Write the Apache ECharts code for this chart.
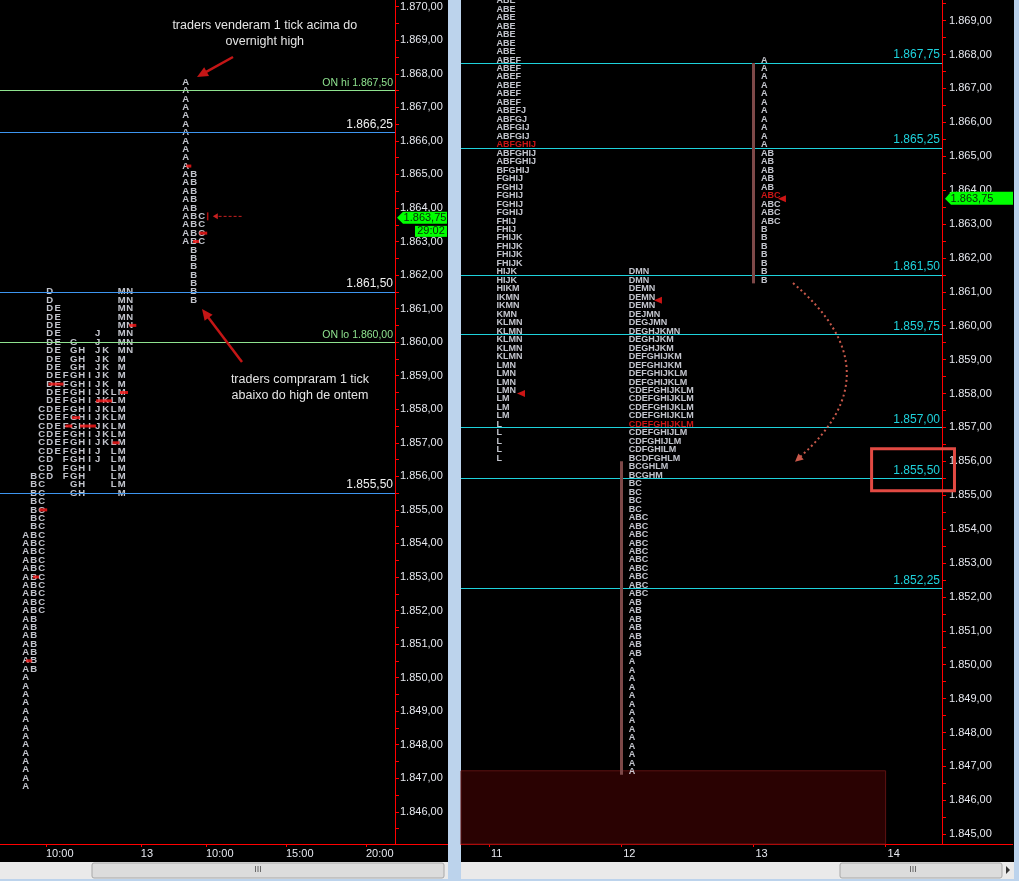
<!DOCTYPE html>
<html><head><meta charset="utf-8">
<script src="https://cdn.jsdelivr.net/npm/echarts@6/dist/echarts.min.js"></script>
<style>
html,body{margin:0;padding:0;background:#bcd3ec;width:1019px;height:881px;overflow:hidden}
#lp{position:absolute;left:0;top:0;width:448px;height:862px;background:#000}
#rp{position:absolute;left:461px;top:0;width:553px;height:862px;background:#000}
#c{position:absolute;left:0;top:0;width:1019px;height:881px}
</style></head><body>
<div id="lp"></div><div id="rp"></div><div id="c"></div>
<script>
// ---------------- DATA ----------------
const leftPriceTicks = [1846,1847,1848,1849,1850,1851,1852,1853,1854,1855,1856,1857,1858,1859,1860,1861,1862,1863,1864,1865,1866,1867,1868,1869,1870];
const rightPriceTicks = [1845,1846,1847,1848,1849,1850,1851,1852,1853,1854,1855,1856,1857,1858,1859,1860,1861,1862,1863,1864,1865,1866,1867,1868,1869];
const leftTimeTickPos = [5.75, 17.6, 25.75, 35.75, 45.75];
const leftTimeLabels = ['10:00','13','10:00','15:00','20:00'];
const rightDayTicks = [11,12,13,14];
const rightDayLabels = ['11','12','13','14'];

const day11 = [
 [1869.50,'ABE'],[1869.25,'ABE'],[1869.00,'ABE'],[1868.75,'ABE'],[1868.50,'ABE'],[1868.25,'ABE'],[1868.00,'ABE'],
 [1867.75,'ABEF'],[1867.50,'ABEF'],[1867.25,'ABEF'],[1867.00,'ABEF'],[1866.75,'ABEF'],[1866.50,'ABEF'],
 [1866.25,'ABEFJ'],[1866.00,'ABFGJ'],[1865.75,'ABFGIJ'],[1865.50,'ABFGIJ'],[1865.25,'ABFGHIJ'],[1865.00,'ABFGHIJ'],
 [1864.75,'ABFGHIJ'],[1864.50,'BFGHIJ'],
 [1864.25,'FGHIJ'],[1864.00,'FGHIJ'],[1863.75,'FGHIJ'],[1863.50,'FGHIJ'],[1863.25,'FGHIJ'],
 [1863.00,'FHIJ'],[1862.75,'FHIJ'],
 [1862.50,'FHIJK'],[1862.25,'FHIJK'],[1862.00,'FHIJK'],[1861.75,'FHIJK'],
 [1861.50,'HIJK'],[1861.25,'HIJK'],[1861.00,'HIKM'],[1860.75,'IKMN'],[1860.50,'IKMN'],[1860.25,'KMN'],
 [1860.00,'KLMN'],[1859.75,'KLMN'],[1859.50,'KLMN'],[1859.25,'KLMN'],[1859.00,'KLMN'],
 [1858.75,'LMN'],[1858.50,'LMN'],[1858.25,'LMN'],[1858.00,'LMN'],
 [1857.75,'LM'],[1857.50,'LM'],[1857.25,'LM'],
 [1857.00,'L'],[1856.75,'L'],[1856.50,'L'],[1856.25,'L'],[1856.00,'L']
];
const day12 = [
 [1861.50,'DMN'],[1861.25,'DMN'],[1861.00,'DEMN'],[1860.75,'DEMN'],[1860.50,'DEMN'],[1860.25,'DEJMN'],[1860.00,'DEGJMN'],
 [1859.75,'DEGHJKMN'],[1859.50,'DEGHJKM'],[1859.25,'DEGHJKM'],[1859.00,'DEFGHIJKM'],[1858.75,'DEFGHIJKM'],
 [1858.50,'DEFGHIJKLM'],[1858.25,'DEFGHIJKLM'],
 [1858.00,'CDEFGHIJKLM'],[1857.75,'CDEFGHIJKLM'],[1857.50,'CDEFGHIJKLM'],[1857.25,'CDEFGHIJKLM'],[1857.00,'CDEFGHIJKLM'],
 [1856.75,'CDEFGHIJLM'],[1856.50,'CDFGHIJLM'],[1856.25,'CDFGHILM'],[1856.00,'BCDFGHLM'],[1855.75,'BCGHLM'],[1855.50,'BCGHM'],
 [1855.25,'BC'],[1855.00,'BC'],[1854.75,'BC'],[1854.50,'BC'],
 [1854.25,'ABC'],[1854.00,'ABC'],[1853.75,'ABC'],[1853.50,'ABC'],[1853.25,'ABC'],
 [1853.00,'ABC'],[1852.75,'ABC'],[1852.50,'ABC'],[1852.25,'ABC'],[1852.00,'ABC'],
 [1851.75,'AB'],[1851.50,'AB'],[1851.25,'AB'],[1851.00,'AB'],[1850.75,'AB'],[1850.50,'AB'],[1850.25,'AB'],
 [1850.00,'A'],[1849.75,'A'],[1849.50,'A'],[1849.25,'A'],[1849.00,'A'],[1848.75,'A'],[1848.50,'A'],
 [1848.25,'A'],[1848.00,'A'],[1847.75,'A'],[1847.50,'A'],[1847.25,'A'],[1847.00,'A'],[1846.75,'A']
];
const day13 = [
 [1867.75,'A'],[1867.50,'A'],[1867.25,'A'],[1867.00,'A'],[1866.75,'A'],[1866.50,'A'],[1866.25,'A'],
 [1866.00,'A'],[1865.75,'A'],[1865.50,'A'],[1865.25,'A'],
 [1865.00,'AB'],[1864.75,'AB'],[1864.50,'AB'],[1864.25,'AB'],[1864.00,'AB'],
 [1863.75,'ABC'],[1863.50,'ABC'],[1863.25,'ABC'],[1863.00,'ABC'],
 [1862.75,'B'],[1862.50,'B'],[1862.25,'B'],[1862.00,'B'],[1861.75,'B'],[1861.50,'B'],[1861.25,'B']
];
const highlightRows = {11:1865.25, 12:1857.00, 13:1863.75};
const ibHigh = {11:1869.75, 12:1856.00, 13:1867.75};
const ibLow  = {11:1864.50, 12:1846.75, 13:1861.25};

const leftLevels = [1867.50, 1866.25, 1861.50, 1860.00, 1855.50];
const leftLevelNames = ['ON hi ', '', '', 'ON lo ', ''];
const rightLevels = [1867.75, 1865.25, 1861.50, 1859.75, 1857.00, 1855.50, 1852.25];
const lastPrice = 1863.75;
const timerText = '29:02';
const overnightBoxTop = 1846.87;

// small red markers in the split profile (x in half-hour columns, price)
const leftMarkPts = [[16.6,1860.50],[7.0,1858.75],[15.5,1858.50],[13.0,1858.25],[9.5,1857.75],[8.6,1857.50],[11.0,1857.50],
  [14.5,1857.00],[5.4,1855.00],[4.5,1853.00],[3.6,1850.50],[23.6,1865.25],[25.4,1863.25],[24.5,1863.00]];
const rightMarkPts = [[12.278,1860.75],[11.242,1858.00],[13.216,1863.75]];

// ---------------- LAYOUT / STYLE ----------------
const A12 = 3.2, A13 = 23.2;       // column of letter A in split view
const TXT_OFF = 0.057;             // text start after the day tick
const FONT = "'Liberation Sans', Arial, sans-serif";
const LETTER = '#f2f5ff', RED = '#ff1c1c', CYAN = '#1ed2dc', BLUE = '#3d95f0', GREEN = '#8fe38f', AXIS = '#ff0000', TICKTXT = '#e6e8ef';
const leftMarkW = [7,15,8,16,8,7,16,7,8,6,6,5,8,6];

function fmt(v){ const s=v.toFixed(2).split('.'); return s[0].slice(0,1)+'.'+s[0].slice(1)+','+s[1]; }
function near(arr, v){ let b=0; arr.forEach((a,i)=>{ if(Math.abs(a-v)<Math.abs(arr[b]-v)) b=i; }); return b; }

const leftItems = [];
[[day12, A12],[day13, A13]].forEach(([rows, a])=>{
  rows.forEach(([p,s])=>{ for(const c of s){ leftItems.push([a + (c.charCodeAt(0)-65), p, c]); } });
});
const rightItems = [];
[[11,day11],[12,day12],[13,day13]].forEach(([d,rows])=>{
  rows.forEach(([p,s])=>{
    rightItems.push({value:[d+TXT_OFF, p, s], label:{color: p===highlightRows[d] ? RED : LETTER}});
  });
});

const chart = echarts.init(document.getElementById('c'), null, {renderer:'canvas'});
const withHalves = (ticks)=>ticks.concat(ticks.map(v=>v+0.5)).concat(ticks.map(v=>v-0.5));

const yBase = (min,max,ticks,margin)=>({type:'value', position:'right', min, max,
  axisLine:{show:true, onZero:false, lineStyle:{color:AXIS, width:1}},
  axisTick:{show:true, customValues:withHalves(ticks).filter(v=>v>min&&v<max), length:4, lineStyle:{color:AXIS}},
  axisLabel:{show:true, customValues:ticks, formatter:fmt, color:TICKTXT, fontSize:11, fontFamily:FONT, margin},
  splitLine:{show:false}});

const option = {
  animation:false,
  backgroundColor:'transparent',
  grid:[{left:0, top:0, width:395, height:844},{left:461, top:0, width:481, height:844}],
  xAxis:[
    {gridIndex:0, type:'value', min:0, max:49.375,
     axisLine:{show:true, onZero:false, lineStyle:{color:AXIS}}, splitLine:{show:false},
     axisTick:{show:true, customValues:leftTimeTickPos, length:3, lineStyle:{color:AXIS}},
     axisLabel:{customValues:leftTimeTickPos, formatter:v=>leftTimeLabels[near(leftTimeTickPos,v)], align:'left', color:TICKTXT, fontSize:11, fontFamily:FONT, margin:4}},
    {gridIndex:1, type:'value', min:10.788, max:14.4266,
     axisLine:{show:true, onZero:false, lineStyle:{color:AXIS}}, splitLine:{show:false},
     axisTick:{show:true, customValues:rightDayTicks, length:3, lineStyle:{color:AXIS}},
     axisLabel:{customValues:rightDayTicks, formatter:v=>rightDayLabels[near(rightDayTicks,v)], align:'left', padding:[0,0,0,2], color:TICKTXT, fontSize:11, fontFamily:FONT, margin:4}}
  ],
  yAxis:[
    Object.assign({gridIndex:0}, yBase(1845.04, 1870.2, leftPriceTicks, 5)),
    Object.assign({gridIndex:1}, yBase(1844.71, 1869.61, rightPriceTicks, 7))
  ],
  series:[
    {type:'scatter', xAxisIndex:0, yAxisIndex:0, silent:true, symbolSize:1, itemStyle:{color:'rgba(0,0,0,0)'},
     data:leftItems,
     label:{show:true, position:'inside', formatter:p=>p.value[2], color:LETTER, fontSize:9.5, fontWeight:'bold', fontFamily:FONT},
     markLine:{silent:true, symbol:['none','none'], animation:false,
       data: leftLevels.map((p,i)=>({yAxis:p,
         lineStyle:{color: leftLevelNames[i] ? GREEN : BLUE, width:1, type:'solid'},
         label:{show:true, position:'insideEndTop', distance:2, formatter: leftLevelNames[i]+fmt(p),
           color: leftLevelNames[i] ? GREEN : '#f0f0f0', fontSize: leftLevelNames[i] ? 10.5 : 12, fontFamily:FONT}}))}
    },
    {type:'scatter', xAxisIndex:0, yAxisIndex:0, silent:true, symbol:'rect',
     symbolSize:(v,p)=>[leftMarkW[p.dataIndex],3], itemStyle:{color:'#ff1a1a'}, data:leftMarkPts, z:3},
    {type:'scatter', xAxisIndex:1, yAxisIndex:1, silent:true, symbolSize:1, itemStyle:{color:'rgba(0,0,0,0)'},
     data:rightItems, z:4,
     label:{show:true, position:'inside', align:'left', verticalAlign:'middle', offset:[0,-3], formatter:p=>p.value[2], color:LETTER, fontSize:9, fontWeight:'bold', fontFamily:FONT},
     markLine:{silent:true, symbol:['none','none'], animation:false,
       data: rightLevels.map(p=>({yAxis:p, lineStyle:{color:CYAN, width:1, type:'solid'},
         label:{show:true, position:'insideEndTop', distance:2, formatter:fmt(p), color:CYAN, fontSize:12, fontFamily:FONT}}))
         .concat([11,12,13].map(d=>[
           {coord:[d, ibLow[d]], lineStyle:{color:'#7d4848', width:3, type:'solid'}, label:{show:false}},
           {coord:[d, ibHigh[d]]}]))},
     markArea:{silent:true, itemStyle:{color:'#2a0202', borderColor:'#5e1212', borderWidth:1},
       data:[[{coord:[10.788, 1844.71]},{coord:[14, overnightBoxTop]}]]}
    },
    {type:'scatter', xAxisIndex:1, yAxisIndex:1, silent:true, symbol:'triangle', symbolRotate:90, symbolSize:[7,8],
     itemStyle:{color:'#ff1a1a'}, data:rightMarkPts, z:5}
  ]
};
chart.setOption(option);

// ---------------- ANNOTATIONS ----------------
const LP = (x,y)=>chart.convertToPixel({xAxisIndex:0, yAxisIndex:0},[x,y]);
const RP = (x,y)=>chart.convertToPixel({xAxisIndex:1, yAxisIndex:1},[x,y]);
function head(tip, from, len, hw, color){
  const dx=tip[0]-from[0], dy=tip[1]-from[1], L=Math.hypot(dx,dy), ux=dx/L, uy=dy/L;
  const bx=tip[0]-ux*len, by=tip[1]-uy*len;
  return {type:'polygon', shape:{points:[tip,[bx-uy*hw, by+ux*hw],[bx+uy*hw, by-ux*hw]]}, style:{fill:color}, z:20};
}
const g = [];
const t1 = LP(33.1, 1869.2), t2 = LP(37.5, 1858.66);
g.push({type:'text', x:t1[0], y:t1[1], z:20, style:{text:'traders venderam 1 tick acima do\novernight high', fill:'#e4e4e4', font:'12.5px '+FONT, align:'center', verticalAlign:'middle', textAlign:'center', textVerticalAlign:'middle', lineHeight:16}});
g.push({type:'text', x:t2[0], y:t2[1], z:20, style:{text:'traders compraram 1 tick\nabaixo do high de ontem', fill:'#e4e4e4', font:'12.5px '+FONT, align:'center', verticalAlign:'middle', textAlign:'center', textVerticalAlign:'middle', lineHeight:16}});
const ARR='#c41616';
[[[29.125,1868.50],[24.625,1867.904]],[[30.25,1859.407],[25.25,1860.987]]].forEach(([f,t])=>{
  const a=LP(...f), b=LP(...t);
  const dx=b[0]-a[0], dy=b[1]-a[1], L=Math.hypot(dx,dy);
  const e=[b[0]-dx/L*8, b[1]-dy/L*8];
  g.push({type:'line', z:20, shape:{x1:a[0],y1:a[1],x2:e[0],y2:e[1]}, style:{stroke:ARR, lineWidth:2.5}});
  g.push(head(b,a,11,5,ARR));
});
{const a=LP(30.2,lastPrice), b=LP(26.6,lastPrice), v=LP(25.96,lastPrice);
 g.push({type:'line', z:20, shape:{x1:a[0],y1:a[1],x2:b[0]+4,y2:b[1]}, style:{stroke:'#c82020', lineWidth:1, lineDash:[3,2]}});
 g.push(head(b,a,5,3,'#c82020'));
 g.push({type:'line', z:20, shape:{x1:v[0],y1:v[1]-4,x2:v[0],y2:v[1]+4}, style:{stroke:'#b01010', lineWidth:1.5}});}
{const s=RP(13.2995,1861.26), c=RP(14.094,1858.63), e=RP(13.3147,1855.99);
 g.push({type:'bezierCurve', z:20, shape:{x1:s[0],y1:s[1],cpx1:c[0],cpy1:c[1],x2:e[0]+3,y2:e[1]-3}, style:{stroke:'#c8584a', lineWidth:2, lineDash:[2,3], fill:null}});
 g.push(head(e,c,8,4,'#c8584a'));}
{const a=RP(13.894,1856.37), b=RP(14.521,1855.13);
 g.push({type:'rect', z:21, shape:{x:a[0],y:a[1],width:b[0]-a[0],height:b[1]-a[1]}, style:{fill:null, stroke:'#e24a43', lineWidth:3}});}
{const y=LP(0,lastPrice)[1]+1.5, x0=LP(49.375,lastPrice)[0]+2;
 g.push({type:'polygon', z:22, shape:{points:[[x0,y],[x0+6,y-6],[447,y-6],[447,y+6],[x0+6,y+6]]}, style:{fill:'#00ff00'}});
 g.push({type:'text', x:x0+28, y:y, z:23, style:{text:fmt(lastPrice), fill:'#0a2a0a', font:'11px '+FONT, align:'center', verticalAlign:'middle', textAlign:'center', textVerticalAlign:'middle'}});
 g.push({type:'rect', z:22, shape:{x:415, y:y+8, width:32, height:11}, style:{fill:'#00ff00'}});
 g.push({type:'text', x:431, y:y+13.5, z:23, style:{text:timerText, fill:'#0a2a0a', font:'11px '+FONT, align:'center', verticalAlign:'middle', textAlign:'center', textVerticalAlign:'middle'}});
 const yr=RP(12,lastPrice)[1], xr=RP(14.4266,lastPrice)[0]+3;
 g.push({type:'polygon', z:22, shape:{points:[[xr,yr],[xr+6,yr-7],[1013,yr-7],[1013,yr+6],[xr+6,yr+6]]}, style:{fill:'#00ff00'}});
 g.push({type:'text', x:xr+27, y:yr, z:23, style:{text:fmt(lastPrice), fill:'#0a2a0a', font:'11px '+FONT, align:'center', verticalAlign:'middle', textAlign:'center', textVerticalAlign:'middle'}});}
g.push({type:'line', z:19, shape:{x1:395,y1:844.5,x2:448,y2:844.5}, style:{stroke:AXIS, lineWidth:1}});
g.push({type:'line', z:19, shape:{x1:942,y1:844.5,x2:1013,y2:844.5}, style:{stroke:AXIS, lineWidth:1}});
g.push({type:'rect', z:19, shape:{x:0,y:862,width:448,height:17}, style:{fill:'#eaeaea'}});
g.push({type:'rect', z:20, shape:{x:92,y:863,width:352,height:15,r:2}, style:{fill:'#dcdcdc', stroke:'#a8a8a8'}});
g.push({type:'text', x:258, y:870, z:21, style:{text:'III', fill:'#555', font:'9px '+FONT, align:'center', verticalAlign:'middle', textAlign:'center', textVerticalAlign:'middle'}});
g.push({type:'rect', z:19, shape:{x:461,y:862,width:553,height:17}, style:{fill:'#eaeaea'}});
g.push({type:'rect', z:20, shape:{x:840,y:863,width:162,height:15,r:2}, style:{fill:'#dcdcdc', stroke:'#a8a8a8'}});
g.push({type:'text', x:913, y:870, z:21, style:{text:'III', fill:'#555', font:'9px '+FONT, align:'center', verticalAlign:'middle', textAlign:'center', textVerticalAlign:'middle'}});
g.push({type:'polygon', z:21, shape:{points:[[1006,866],[1010,870],[1006,874]]}, style:{fill:'#333'}});
chart.setOption({graphic:g});
</script></body></html>
